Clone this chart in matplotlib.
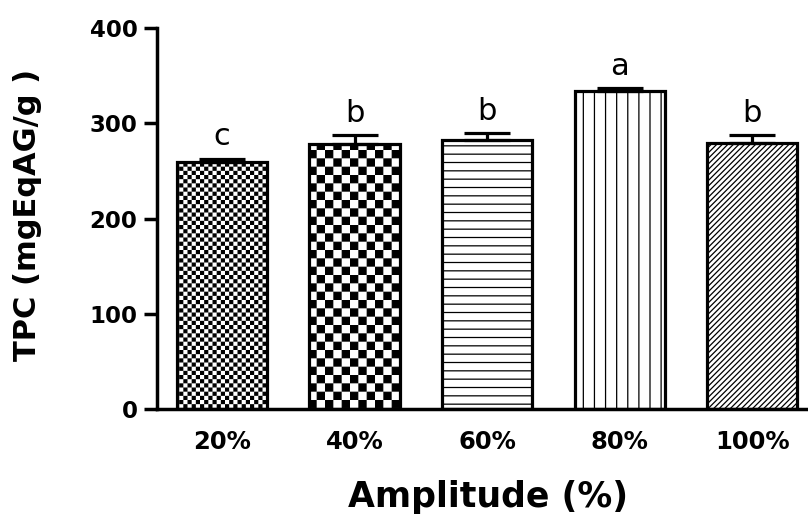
import numpy as np
import matplotlib
matplotlib.use("Agg")
import matplotlib.pyplot as plt
from matplotlib import hatch as mhatch
from matplotlib.path import Path

# ---------------- data ----------------
categories = ["20%", "40%", "60%", "80%", "100%"]
tpc_values = [260, 278, 283, 334, 279]
tpc_errors = [3, 10, 7, 3.5, 9]
letters = ["c", "b", "b", "a", "b"]
y_ticks = [0, 100, 200, 300, 400]

HATCH_LW = 0.9  # points
plt.rcParams["hatch.linewidth"] = HATCH_LW
plt.rcParams["hatch.color"] = "black"


# ------------- custom hatch patterns (style only) -------------
class _Checker(mhatch.HatchPatternBase):
    char = "o"
    cells = 24

    def __init__(self, hatch, density):
        self.on = self.char in hatch
        n = self.cells
        self.num_vertices = (n * n // 2) * 5 if self.on else 0

    def set_vertices_and_codes(self, vertices, codes):
        n = self.cells
        s = 1.0 / n
        shrink = HATCH_LW / 72.0  # stroke thickness in hatch units (1 unit = 1 inch)
        a = shrink / 2
        sq = np.array([[a, a], [s - a, a], [s - a, s - a], [a, s - a], [a, a]])
        cc = [Path.MOVETO, Path.LINETO, Path.LINETO, Path.LINETO, Path.CLOSEPOLY]
        k = 0
        for i in range(n):
            for j in range(n):
                if (i + j) % 2 == 0:
                    vertices[k:k + 5] = sq + [i * s, j * s]
                    codes[k:k + 5] = cc
                    k += 5


class FineChecker(_Checker):
    char = "o"
    cells = 24


class CoarseChecker(_Checker):
    char = "O"
    cells = 12


class VerticalLines(mhatch.HatchPatternBase):
    def __init__(self, hatch, density):
        self.num_lines = 9 if "|" in hatch else 0
        self.num_vertices = self.num_lines * 2

    def set_vertices_and_codes(self, vertices, codes):
        steps = np.linspace(0.0, 1.0, self.num_lines, endpoint=False)
        steps += 0.5 / self.num_lines
        vertices[0::2, 0] = steps
        vertices[0::2, 1] = 0.0
        vertices[1::2, 0] = steps
        vertices[1::2, 1] = 1.0
        codes[0::2] = Path.MOVETO
        codes[1::2] = Path.LINETO


mhatch._hatch_types = [mhatch.HorizontalHatch, VerticalLines,
                       mhatch.NorthEastHatch, mhatch.SouthEastHatch,
                       FineChecker, CoarseChecker]

hatches = ["o", "O", "--", "|", "//////"]

# ---------------- figure ----------------
fig = plt.figure(figsize=(8.08, 5.15), dpi=100)
W, H = 808, 515
x0, x1 = 157, 808
y0, y1 = 409, 28.3
ax = fig.add_axes([x0 / W, 1 - y0 / H, (x1 - x0) / W, (y0 - y1) / H])

x = np.arange(len(categories))
bars = ax.bar(x, tpc_values, width=0.68, color="white", edgecolor="black",
              linewidth=2.3, hatch=None, zorder=2)
for b, h in zip(bars, hatches):
    b.set_hatch(h)

ax.errorbar(x, tpc_values, yerr=[np.zeros(len(x)), tpc_errors], fmt="none",
            ecolor="black", elinewidth=2.3, capsize=16.5, capthick=2.3, zorder=3)

for xi, v, e, lt in zip(x, tpc_values, tpc_errors, letters):
    ax.annotate(lt, xy=(xi, v + e), xytext=(0, 9.5), textcoords="offset points",
                ha="center", va="baseline", fontsize=22, family="DejaVu Sans")

ax.set_xlim(-0.49, 4.42)
ax.set_ylim(0, 400)
ax.set_yticks(y_ticks)
ax.set_xticks(x)
ax.set_xticklabels(categories, fontsize=17.5, fontweight="bold", family="DejaVu Sans")
ax.set_yticklabels([str(t) for t in y_ticks], fontsize=16.5, fontweight="bold",
                   family="DejaVu Sans")
ax.tick_params(axis="y", length=9.5, width=2.5, pad=4.5, direction="out")
ax.tick_params(axis="x", length=0, pad=15)

for s in ["top", "right"]:
    ax.spines[s].set_visible(False)
for s in ["left", "bottom"]:
    ax.spines[s].set_linewidth(2.5)
    ax.spines[s].set_zorder(4)

ax.set_ylabel("TPC (mgEqAG/g )", fontsize=22, fontweight="bold", family="DejaVu Sans")
ax.yaxis.set_label_coords(-0.176, 0.51)
ax.set_xlabel("Amplitude (%)", fontsize=25, fontweight="bold", family="DejaVu Sans")
ax.xaxis.set_label_coords(0.508, -0.186)

fig.savefig("out.png", dpi=100)
